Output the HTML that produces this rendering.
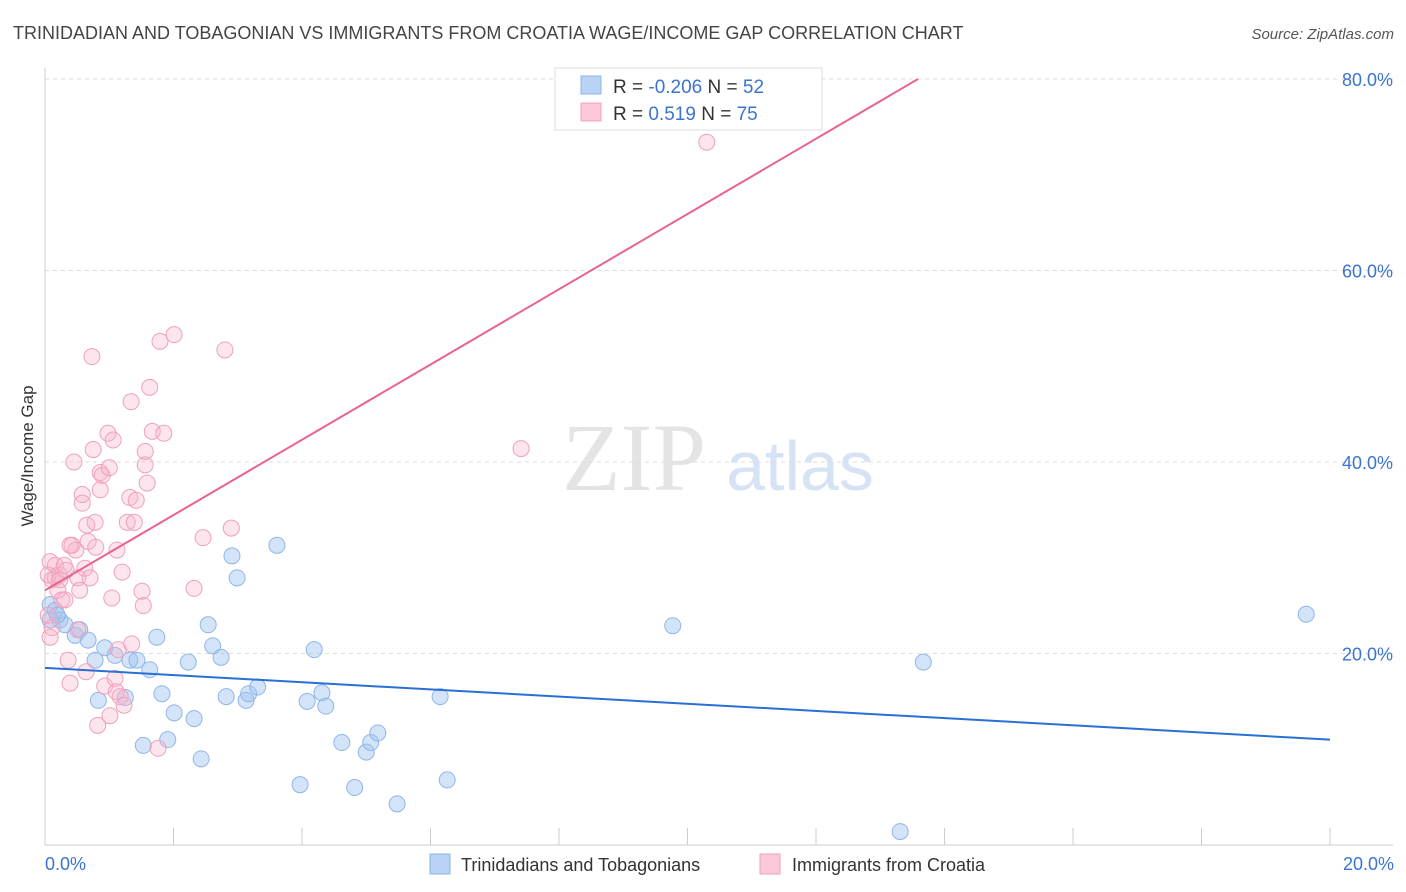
<!DOCTYPE html>
<html><head><meta charset="utf-8"><style>
body{margin:0;background:#fff;font-family:"Liberation Sans",sans-serif;}
svg{display:block}
</style></head><body>
<svg id="chart" width="1406" height="892">
<text x="13" y="39" font-size="18" fill="#444">TRINIDADIAN AND TOBAGONIAN VS IMMIGRANTS FROM CROATIA WAGE/INCOME GAP CORRELATION CHART</text>
<text x="1394" y="39" font-size="15" fill="#555" text-anchor="end" font-style="italic">Source: ZipAtlas.com</text>
<text transform="translate(33,456) rotate(-90)" font-size="17" fill="#333" text-anchor="middle">Wage/Income Gap</text>
<g><text x="634" y="490" font-size="96" fill="#e4e4e4" font-family="Liberation Serif,serif" text-anchor="middle">ZIP</text><text x="800" y="490" font-size="70" fill="#d6e3f4" text-anchor="middle">atlas</text></g>
<g id="grid"></g><g id="marks"></g><g id="lines"></g>
<g>
<rect x="555" y="68" width="267" height="62" fill="#fff" stroke="#ddd"/>
<rect x="581" y="76" width="20" height="18" fill="#b8d3f5" stroke="#8fb6e8"/>
<rect x="581" y="103" width="20" height="18" fill="#fbc9d8" stroke="#f0a0bc"/>
<text x="613" y="93" font-size="19" fill="#333">R = <tspan fill="#3a74d0">-0.206</tspan>    N = <tspan fill="#3a74d0">52</tspan></text>
<text x="613" y="120" font-size="19" fill="#333">R =    <tspan fill="#3a74d0">0.519</tspan>    N = <tspan fill="#3a74d0">75</tspan></text>
</g>
<g>
<rect x="430" y="854" width="20" height="20" fill="#b8d3f5" stroke="#8fb6e8"/>
<text x="461" y="871" font-size="18" fill="#333">Trinidadians and Tobagonians</text>
<rect x="760" y="854" width="20" height="20" fill="#fbc9d8" stroke="#f0a0bc"/>
<text x="792" y="871" font-size="18" fill="#333">Immigrants from Croatia</text>
</g>
</svg>
<script>
const xTicks=["0.0%","20.0%"];
const yTickVals=[20,40,60,80];
const blueX=[.08,.16,.23,.31,.47,.54,.67,.78,.83,.93,1.09,1.25,1.32,1.43,1.53,1.63,1.74,1.82,1.91,2.01,2.23,2.32,2.43,2.54,2.61,2.74,2.82,2.91,2.99,3.13,3.17,3.31,3.61,3.97,4.08,4.19,4.31,4.37,4.62,4.82,5.00,5.07,5.18,5.48,6.15,6.26,9.77,13.31,13.67,19.63,.08,.19];
const blueY=[25.1,24.5,23.5,23.0,21.9,22.5,21.4,19.3,15.1,20.6,19.8,15.4,19.3,19.3,10.4,18.3,21.7,15.8,11.0,13.8,19.1,13.2,9.0,23.0,20.8,19.6,15.5,30.2,27.9,15.1,15.8,16.5,31.3,6.3,15.0,20.4,15.9,14.5,10.7,6.0,9.7,10.7,11.7,4.3,15.5,6.8,22.9,1.4,19.1,24.1,23.5,24.0];
const pinkX=[.08,.11,.16,.20,.23,.26,.31,.08,.05,.11,.36,.39,.42,.45,.48,.51,.54,.58,.58,.62,.64,.65,.67,.70,.73,.75,.78,.79,.82,.86,.89,.93,.98,1.00,1.01,1.04,1.06,1.09,1.11,1.12,1.14,1.17,1.20,1.23,1.28,1.32,1.34,1.35,1.39,1.42,1.51,1.53,1.56,1.56,1.59,1.63,1.67,1.76,1.79,1.85,2.01,2.32,2.46,2.80,2.90,7.41,10.30,.05,.16,.23,.30,.33,.39,.51,.86];
const pinkY=[29.6,27.7,27.9,26.6,28.2,25.6,25.6,21.7,24.0,22.7,19.3,16.9,31.3,40.0,30.8,27.9,26.6,36.6,35.7,28.9,18.1,33.4,31.7,27.9,51.0,41.3,33.7,31.1,12.5,38.9,38.6,16.6,43.0,39.4,13.5,25.8,42.3,17.4,16.0,30.8,20.4,15.5,28.5,14.6,33.7,36.3,46.3,21.0,33.7,36.0,26.5,25.0,39.7,41.1,37.8,47.8,43.2,10.1,52.6,43.0,53.3,26.8,32.1,51.7,33.1,41.4,73.4,28.2,29.2,27.7,29.2,28.7,31.3,22.5,37.1];
const blueTrend=[18.5,11.0]; // y at x=0, x=20
const pinkTrend=[26.6,3.93]; // intercept, slope
const NS="http://www.w3.org/2000/svg";
const X=v=>45+v/20*1285, Y=v=>845-v/20*191.5;
function mk(t,a,p){const e=document.createElementNS(NS,t);for(const k in a)e.setAttribute(k,a[k]);p.appendChild(e);return e;}
const grid=document.getElementById('grid');
yTickVals.forEach(v=>{
 const l=mk('line',{x1:45,x2:1393,y1:Y(v),y2:Y(v),stroke:'#ddd','stroke-dasharray':'4,4'},grid);
 
 
 const t=mk('text',{x:1393,y:Y(v)+7,'font-size':18,fill:'#3a74d0','text-anchor':'end'},grid);t.textContent=v.toFixed(1)+'%';
 
 
});
mk('line',{x1:45,x2:1393,y1:845,y2:845,stroke:'#ccc'},grid);
mk('line',{x1:45,x2:45,y1:68,y2:845,stroke:'#ccc'},grid);
for(let i=0;i<=10;i++){const x=X(i*2);mk('line',{x1:x,x2:x,y1:828,y2:845,stroke:'#ccc'},grid);}
xTicks.forEach((s,i)=>{const t=mk('text',{x:i?1394:45,y:870,'font-size':18,fill:'#3a74d0','text-anchor':i?'end':'start'},grid);t.textContent=s;
 
 });
const marks=document.getElementById('marks');
blueX.forEach((x,i)=>{const c=mk('circle',{cx:X(x),cy:Y(blueY[i]),r:8,fill:'rgba(160,196,240,0.45)',stroke:'#8fb6e8','stroke-width':1},marks);
 
 });
pinkX.forEach((x,i)=>{const c=mk('circle',{cx:X(x),cy:Y(pinkY[i]),r:8,fill:'rgba(247,180,202,0.35)',stroke:'#f0a0bc','stroke-width':1},marks);
 
 });
const lines=document.getElementById('lines');
const bl=mk('line',{x1:X(0),y1:Y(blueTrend[0]),x2:X(20),y2:Y(blueTrend[1]),stroke:'#2a6fd6','stroke-width':2},lines);


const xe=(80-pinkTrend[0])/pinkTrend[1];
const pl=mk('line',{x1:X(0),y1:Y(pinkTrend[0]),x2:X(xe),y2:Y(80),stroke:'#e8638f','stroke-width':2},lines);


</script>
</body></html>
